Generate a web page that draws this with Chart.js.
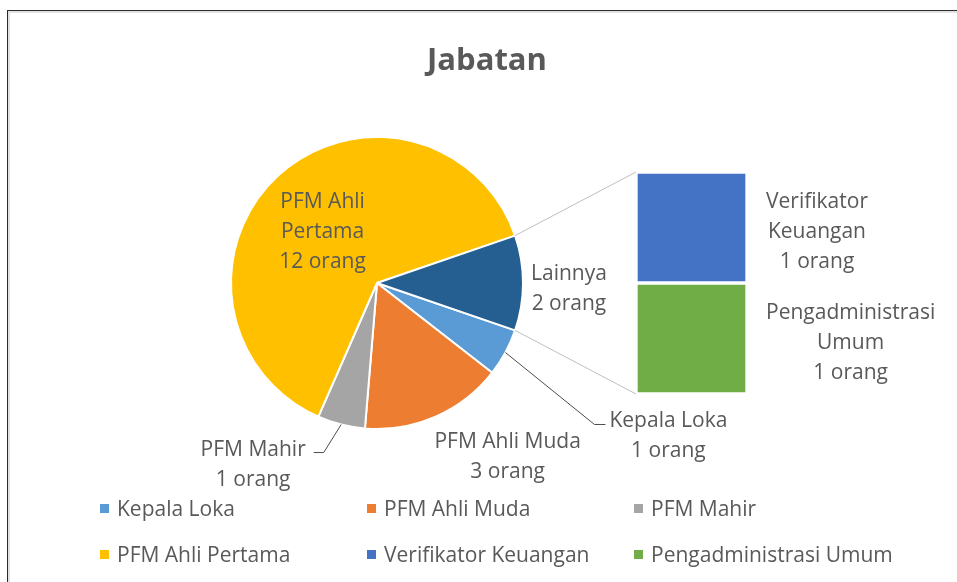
<!DOCTYPE html>
<html>
<head>
<meta charset="utf-8">
<title>Jabatan</title>
<script src="https://cdn.jsdelivr.net/npm/chart.js@4.4.1/dist/chart.umd.min.js"></script>
<style>
  body { margin: 0; background: #fff; }
  #wrap { position: relative; width: 957px; height: 582px; overflow: hidden; font-family: "Open Sans", "Noto Sans", sans-serif; color: #595959; }
  #frame { position: absolute; left: 7px; top: 10px; width: 980px; height: 600px; border-left: 1px solid #2b2b2b; border-top: 1px solid #2b2b2b; box-shadow: inset 2px 2px 0 #e2e2e2; }
  canvas { position: absolute; left: 0; top: 0; }
  #barChart { pointer-events: none; }
  #title { position: absolute; left: 387px; top: 38px; width: 200px; text-align: center; font-size: 31px; font-weight: bold; line-height: 40px; }
  #legend { position: absolute; left: 100px; top: 485px; display: grid; grid-template-columns: 267px 267px 267px; }
  .item { height: 46px; display: flex; align-items: center; font-size: 21px; white-space: nowrap; }
  .sw { width: 9px; height: 9px; margin-right: 8px; flex: none; }
</style>
</head>
<body>
<div id="wrap">
  <div id="frame"></div>
  <canvas id="pieChart" width="957" height="582"></canvas>
  <canvas id="barChart" width="957" height="582"></canvas>
  <div id="title">Jabatan</div>
  <div id="legend"></div>
</div>
<script>
// main pie (last slice is the "other" group)
const mainLabels = ["Kepala Loka", "PFM Ahli Muda", "PFM Mahir", "PFM Ahli Pertama", "Lainnya"];
const mainValues = [1, 3, 1, 12, 2];
const mainColors = ["#5B9BD5", "#ED7D31", "#A5A5A5", "#FFC000", "#255E91"];
// breakdown of "Lainnya" shown in the stacked bar
const otherLabels = ["Verifikator Keuangan", "Pengadministrasi Umum"];
const otherValues = [1, 1];
const otherColors = ["#4472C4", "#70AD47"];
const unit = "orang";

// how the data label names wrap
const mainWrap = [["Kepala Loka"], ["PFM Ahli Muda"], ["PFM Mahir"], ["PFM Ahli", "Pertama"], ["Lainnya"]];
const otherWrap = [["Verifikator", "Keuangan"], ["Pengadministrasi", "Umum"]];

// label placement relative to the slice's outer middle point
const labelSpot = [
  { dx: 163, dy: 82, leader: "left" },
  { dx: 72, dy: 38 },
  { dx: -88, dy: 38, leader: "right" },
  { inside: 0.52, dx: -3, dy: 3 },
  { gap: 8, dy: 4 }
];

const labelFont = '21px "Open Sans", "Noto Sans", sans-serif';
const textColor = "#595959";
const lineH = 30;

function drawBlock(ctx, lines, cx, cy) {
  const top = cy - (lines.length - 1) * lineH / 2 + 2;
  lines.forEach((l, k) => ctx.fillText(l, cx, top + k * lineH));
}

const pieLabelPlugin = {
  id: "pieLabels",
  afterDatasetsDraw(chart) {
    const ctx = chart.ctx;
    const arcs = chart.getDatasetMeta(0).data;
    ctx.save();
    ctx.font = labelFont;
    ctx.fillStyle = textColor;
    ctx.strokeStyle = "#4d4d4d";
    ctx.lineWidth = 1;
    ctx.textAlign = "center";
    ctx.textBaseline = "middle";
    arcs.forEach((arc, i) => {
      const mid = (arc.startAngle + arc.endAngle) / 2;
      const r = arc.outerRadius;
      const ex = arc.x + Math.cos(mid) * r;
      const ey = arc.y + Math.sin(mid) * r;
      const lines = mainWrap[i].concat([mainValues[i] + " " + unit]);
      const w = Math.max(...lines.map(l => ctx.measureText(l).width));
      const s = labelSpot[i];
      let cx, cy;
      if (s.inside) {
        cx = arc.x + Math.cos(mid) * r * s.inside + s.dx;
        cy = arc.y + Math.sin(mid) * r * s.inside + s.dy;
      } else if (s.gap !== undefined) {
        cx = ex + s.gap + w / 2;
        cy = ey + s.dy;
      } else {
        cx = ex + s.dx;
        cy = ey + s.dy;
      }
      drawBlock(ctx, lines, cx, cy);
      const firstY = cy - (lines.length - 1) * lineH / 2 + 5;
      if (s.leader === "left") {
        const lw = ctx.measureText(lines[0]).width;
        const x2 = cx - lw / 2 - 4;
        ctx.beginPath();
        ctx.moveTo(ex, ey);
        ctx.lineTo(x2 - 11, firstY);
        ctx.lineTo(x2, firstY);
        ctx.stroke();
      } else if (s.leader === "right") {
        const lw = ctx.measureText(lines[0]).width;
        const x2 = cx + lw / 2 + 8;
        ctx.beginPath();
        ctx.moveTo(ex, ey);
        ctx.lineTo(x2 + 10, firstY);
        ctx.lineTo(x2, firstY);
        ctx.stroke();
      }
    });
    ctx.restore();
  }
};

const totalMain = mainValues.reduce((a, b) => a + b, 0);
const otherShare = mainValues[mainValues.length - 1] / totalMain;

const pieChart = new Chart(document.getElementById("pieChart"), {
  type: "pie",
  data: {
    labels: mainLabels,
    datasets: [{
      data: mainValues,
      backgroundColor: mainColors,
      borderColor: "#ffffff",
      borderWidth: 2
    }]
  },
  options: {
    responsive: false,
    animation: false,
    // "Lainnya" centred on the right horizontal
    rotation: 90 + otherShare * 180,
    layout: { padding: { left: 230, right: 433, top: 135, bottom: 151 } },
    plugins: { legend: { display: false }, tooltip: { enabled: false } }
  },
  plugins: [pieLabelPlugin]
});

const barPlugin = {
  id: "barExtras",
  beforeDatasetsDraw(chart) {
    // connector lines from the "Lainnya" slice to the bar
    const arc = pieChart.getDatasetMeta(0).data[mainValues.length - 1];
    const bars = chart.data.datasets.map((d, i) => chart.getDatasetMeta(i).data[0]);
    const topY = Math.min(...bars.map(b => Math.min(b.y, b.base)));
    const botY = Math.max(...bars.map(b => Math.max(b.y, b.base)));
    const left = bars[0].x - bars[0].width / 2;
    const ctx = chart.ctx;
    ctx.save();
    ctx.strokeStyle = "#BFBFBF";
    ctx.lineWidth = 1;
    ctx.beginPath();
    ctx.moveTo(arc.x + Math.cos(arc.startAngle) * arc.outerRadius, arc.y + Math.sin(arc.startAngle) * arc.outerRadius);
    ctx.lineTo(left, topY);
    ctx.moveTo(arc.x + Math.cos(arc.endAngle) * arc.outerRadius, arc.y + Math.sin(arc.endAngle) * arc.outerRadius);
    ctx.lineTo(left, botY);
    ctx.stroke();
    ctx.restore();
  },
  afterDatasetsDraw(chart) {
    const ctx = chart.ctx;
    ctx.save();
    ctx.font = labelFont;
    ctx.fillStyle = textColor;
    ctx.textAlign = "center";
    ctx.textBaseline = "middle";
    chart.data.datasets.forEach((d, i) => {
      const b = chart.getDatasetMeta(i).data[0];
      const lines = otherWrap[i].concat([otherValues[i] + " " + unit]);
      const w = Math.max(...lines.map(l => ctx.measureText(l).width));
      const cx = b.x + b.width / 2 + 19 + w / 2;
      const cy = (b.y + b.base) / 2 + 3;
      drawBlock(ctx, lines, cx, cy);
    });
    ctx.restore();
  }
};

new Chart(document.getElementById("barChart"), {
  type: "bar",
  data: {
    labels: ["Lainnya"],
    datasets: otherLabels.map((l, i) => ({
      label: l,
      data: [otherValues[i]],
      backgroundColor: otherColors[i],
      borderColor: "#ffffff",
      borderWidth: 2,
      borderSkipped: false,
      barPercentage: 1,
      categoryPercentage: 1
    }))
  },
  options: {
    responsive: false,
    animation: false,
    layout: { padding: { left: 636, right: 210, top: 172, bottom: 188 } },
    scales: {
      x: { display: false, stacked: true },
      y: { display: false, stacked: true, reverse: true, min: 0, max: otherValues.reduce((a, b) => a + b, 0) }
    },
    plugins: { legend: { display: false }, tooltip: { enabled: false } }
  },
  plugins: [barPlugin]
});

// legend: pie slices without the group, then the group's items
const legendEl = document.getElementById("legend");
const legendItems = mainLabels.slice(0, -1).map((l, i) => [l, mainColors[i]])
  .concat(otherLabels.map((l, i) => [l, otherColors[i]]));
legendItems.forEach(([label, color]) => {
  const item = document.createElement("div");
  item.className = "item";
  item.innerHTML = `<span class="sw" style="background:${color}"></span><span>${label}</span>`;
  legendEl.appendChild(item);
});
</script>
</body>
</html>
